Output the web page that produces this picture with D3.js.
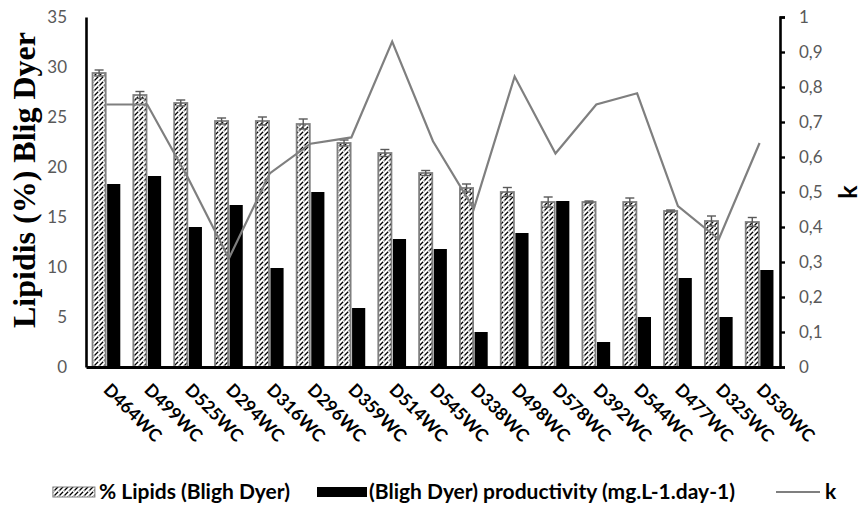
<!DOCTYPE html>
<html>
<head>
<meta charset="utf-8">
<script src="https://cdn.jsdelivr.net/npm/d3@7"></script>
<style>
  body { margin: 0; background: #fff; }
  svg { display: block; }
</style>
</head>
<body>
<svg id="chart" width="862" height="505"></svg>
<script>
// Strains, ordered by lipid content
const strains = ["D464WC","D499WC","D525WC","D294WC","D316WC","D296WC","D359WC","D514WC","D545WC",
                 "D338WC","D498WC","D578WC","D392WC","D544WC","D477WC","D325WC","D530WC"];
// % lipids (Bligh Dyer) and its standard deviation
const lipids    = [29.4, 27.2, 26.4, 24.6, 24.6, 24.3, 22.4, 21.4, 19.4, 17.9, 17.5, 16.5, 16.5, 16.5, 15.6, 14.6, 14.5];
const lipidsErr = [0.3, 0.35, 0.3, 0.3, 0.4, 0.5, 0.3, 0.35, 0.25, 0.4, 0.45, 0.5, 0.1, 0.4, 0.1, 0.5, 0.45];
// Lipid productivity (mg.L-1.day-1)
const productivity = [18.3, 19.1, 14.0, 16.2, 9.9, 17.5, 5.9, 12.8, 11.8, 3.5, 13.4, 16.6, 2.5, 5.0, 8.9, 5.0, 9.7];
// k (right axis)
const kValues = [0.75, 0.75, 0.54, 0.31, 0.553, 0.638, 0.656, 0.93, 0.645, 0.452, 0.83, 0.61, 0.75, 0.782, 0.46, 0.365, 0.64];

const leftTicks  = [0, 5, 10, 15, 20, 25, 30, 35];
const rightTicks = [0, 0.1, 0.2, 0.3, 0.4, 0.5, 0.6, 0.7, 0.8, 0.9, 1];
const fmtRight = d => String(d).replace(".", ",");

const svg = d3.select("#chart");
const plotLeft = 86, plotRight = 780, plotTop = 17, plotBottom = 367;

const x = d3.scaleBand().domain(strains).range([plotLeft, plotRight]).paddingInner(0.32).paddingOuter(0.16);
const xs = d3.scaleBand().domain(["lipids", "prod"]).range([0, x.bandwidth()]).paddingInner(0.1);
const yL = d3.scaleLinear().domain([0, 35]).range([plotBottom, plotTop]);
const yR = d3.scaleLinear().domain([0, 1]).range([plotBottom, plotTop]);

// dashed upward-diagonal hatch
const defs = svg.append("defs");
const pat = defs.append("pattern").attr("id", "hatch")
  .attr("patternUnits", "userSpaceOnUse").attr("width", 5).attr("height", 5);
pat.append("rect").attr("width", 5).attr("height", 5).attr("fill", "#fff");
pat.append("path")
  .attr("d", "M0,5 L3.2,1.8 M3.9,1.1 L4.5,0.5 M-1,1 L1,-1 M4,6 L6,4")
  .attr("stroke", "#000").attr("stroke-width", 1.25);

const tickFont = "Lato, 'Open Sans', sans-serif";

// hatched lipid bars
svg.append("g").selectAll("rect").data(strains).join("rect")
  .attr("x", d => x(d) + xs("lipids"))
  .attr("y", (d, i) => yL(lipids[i]))
  .attr("width", xs.bandwidth())
  .attr("height", (d, i) => yL(0) - yL(lipids[i]))
  .attr("fill", "url(#hatch)")
  .attr("stroke", "#7f7f7f").attr("stroke-width", 1.8);

// error bars
const eb = svg.append("g").attr("stroke", "#595959").attr("stroke-width", 1.4);
strains.forEach((d, i) => {
  const cx = x(d) + xs("lipids") + xs.bandwidth() / 2;
  const y1 = yL(lipids[i] + lipidsErr[i]), y2 = yL(lipids[i] - lipidsErr[i]);
  eb.append("line").attr("x1", cx).attr("x2", cx).attr("y1", y1).attr("y2", y2);
  eb.append("line").attr("x1", cx - 4.5).attr("x2", cx + 4.5).attr("y1", y1).attr("y2", y1);
  eb.append("line").attr("x1", cx - 4.5).attr("x2", cx + 4.5).attr("y1", y2).attr("y2", y2);
});

// productivity bars
svg.append("g").selectAll("rect").data(strains).join("rect")
  .attr("x", d => x(d) + xs("prod"))
  .attr("y", (d, i) => yL(productivity[i]))
  .attr("width", xs.bandwidth())
  .attr("height", (d, i) => yL(0) - yL(productivity[i]))
  .attr("fill", "#000");

// k line
const line = d3.line().x((d, i) => x(strains[i]) + x.bandwidth() / 2).y(d => yR(d));
svg.append("path").datum(kValues).attr("d", line)
  .attr("fill", "none").attr("stroke", "#7f7f7f").attr("stroke-width", 2.2)
  .attr("stroke-linejoin", "miter");

// left axis
const gL = svg.append("g").attr("transform", `translate(${plotLeft},0)`)
  .call(d3.axisLeft(yL).tickValues(leftTicks).tickSize(0).tickPadding(19));
gL.select(".domain").attr("stroke", "#000").attr("stroke-width", 2.6);
gL.selectAll("text").attr("fill", "#595959").attr("font-size", 17).attr("font-family", tickFont);

// right axis
const gR = svg.append("g").attr("transform", `translate(${plotRight},0)`)
  .call(d3.axisRight(yR).tickValues(rightTicks).tickFormat(fmtRight).tickSize(5).tickSizeOuter(5).tickPadding(14));
gR.select(".domain").attr("stroke", "#000").attr("stroke-width", 2.6);
gR.selectAll(".tick line").attr("stroke", "#000").attr("stroke-width", 2.4);
gR.selectAll("text").attr("fill", "#595959").attr("font-size", 17).attr("font-family", tickFont);

// bottom axis
const gB = svg.append("g").attr("transform", `translate(0,${plotBottom})`)
  .call(d3.axisBottom(x).tickSize(0).tickFormat(""));
gB.select(".domain").attr("stroke", "#000").attr("stroke-width", 3);

// rotated category labels
svg.append("g").selectAll("text").data(strains).join("text")
  .attr("transform", d => `translate(${x(d) + x.bandwidth() / 2 - 4},${391}) rotate(45)`)
  .attr("font-family", tickFont).attr("font-weight", 700).attr("font-size", 17.5)
  .attr("fill", "#000").text(d => d);

// axis titles
svg.append("text")
  .attr("transform", `translate(35,180) rotate(-90)`)
  .attr("text-anchor", "middle")
  .attr("font-family", "'Liberation Serif', 'Times New Roman', serif")
  .attr("font-weight", 700).attr("font-size", 32)
  .text("Lipidis (%) Blig Dyer");

svg.append("text")
  .attr("transform", `translate(857,192) rotate(-90)`)
  .attr("text-anchor", "middle")
  .attr("font-family", tickFont).attr("font-weight", 700).attr("font-size", 25)
  .text("k");

// legend
const lg = svg.append("g").attr("font-family", tickFont).attr("font-weight", 700).attr("font-size", 21);
lg.append("rect").attr("x", 317).attr("y", 487).attr("width", 50).attr("height", 10).attr("fill", "#000");
lg.append("text").attr("x", 369).attr("y", 499).text("(Bligh Dyer) productivity (mg.L-1.day-1)");
const t1 = lg.append("text").attr("x", 290).attr("y", 499).attr("text-anchor", "end").text("% Lipids (Bligh Dyer)");
const t1x = 290 - t1.node().getComputedTextLength();
lg.append("rect").attr("x", t1x - 46).attr("y", 487).attr("width", 42).attr("height", 10)
  .attr("fill", "url(#hatch)").attr("stroke", "#7f7f7f").attr("stroke-width", 1);
lg.append("line").attr("x1", 776).attr("x2", 820).attr("y1", 492).attr("y2", 492)
  .attr("stroke", "#7f7f7f").attr("stroke-width", 2.2);
lg.append("text").attr("x", 825).attr("y", 499).text("k");
</script>
</body>
</html>
